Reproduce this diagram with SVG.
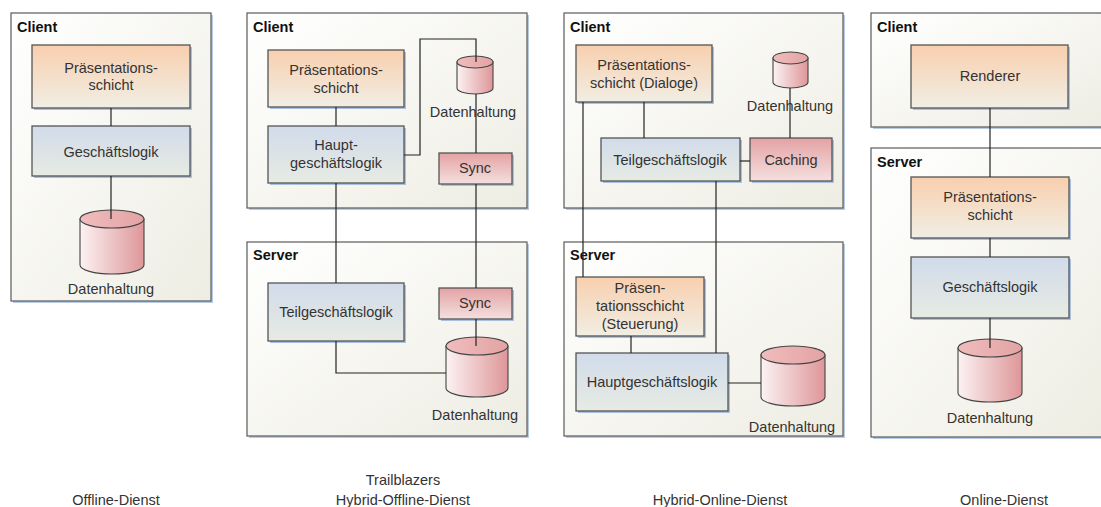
<svg xmlns="http://www.w3.org/2000/svg" width="1101" height="507" viewBox="0 0 1101 507">
  <defs>
    <linearGradient id="gContainer" x1="0" y1="0" x2="1" y2="1">
      <stop offset="0" stop-color="#ffffff"/>
      <stop offset="1" stop-color="#eeede3"/>
    </linearGradient>
    <linearGradient id="gOrange" x1="0" y1="0" x2="0" y2="1">
      <stop offset="0" stop-color="#f8cfae"/>
      <stop offset="1" stop-color="#f1eee4"/>
    </linearGradient>
    <linearGradient id="gBlue" x1="0" y1="0" x2="0" y2="1">
      <stop offset="0" stop-color="#d1dbea"/>
      <stop offset="1" stop-color="#e7ebe3"/>
    </linearGradient>
    <linearGradient id="gRed" x1="0" y1="0" x2="0" y2="1">
      <stop offset="0" stop-color="#e4a2a4"/>
      <stop offset="1" stop-color="#f4e0df"/>
    </linearGradient>
    <linearGradient id="gCylSide" x1="0" y1="0" x2="1" y2="0">
      <stop offset="0" stop-color="#fcf2f3"/>
      <stop offset="1" stop-color="#de9698"/>
    </linearGradient>
    <linearGradient id="gCylTop" x1="0" y1="0" x2="1" y2="0">
      <stop offset="0" stop-color="#f0bcbd"/>
      <stop offset="1" stop-color="#e3a3a4"/>
    </linearGradient>
  </defs>
  <style>
    .container { fill: url(#gContainer); stroke: #5a5a5a; stroke-width: 1.2; }
    .cshadow { fill: #b7cbe6; }
    .shadow { fill: #a9c0e0; }
    .orange { fill: url(#gOrange); stroke: #555; stroke-width: 1.3; }
    .blue { fill: url(#gBlue); stroke: #555; stroke-width: 1.3; }
    .red { fill: url(#gRed); stroke: #555; stroke-width: 1.3; }
    .cylside { fill: url(#gCylSide); stroke: #444; stroke-width: 1.1; }
    .cyltop { fill: url(#gCylTop); stroke: #444; stroke-width: 1.1; }
    .title { font-family: "Liberation Sans", Arial, sans-serif; font-size: 14.5px; font-weight: bold; fill: #111; }
    .lbl { font-family: "Liberation Sans", Arial, sans-serif; font-size: 14.5px; fill: #333; text-anchor: middle; }
    .cap { font-family: "Liberation Sans", Arial, sans-serif; font-size: 14.5px; fill: #333; text-anchor: middle; }
    .conn { fill: none; stroke: #222; stroke-width: 1.2; }
  </style>

  <!-- ============ Column 1: Offline-Dienst ============ -->
  <g id="offline-client">
    <rect class="cshadow" x="13" y="15" width="200" height="288"/>
    <rect class="container" x="11" y="13" width="200" height="288"/>
    <text class="title" x="17" y="32">Client</text>
  </g>
  <g id="offline-praesentation">
    <rect class="shadow" x="34" y="47" width="158" height="63"/>
    <rect class="orange" x="32" y="45" width="158" height="63"/>
    <text class="lbl" x="111" y="73">Präsentations-</text>
    <text class="lbl" x="111" y="90">schicht</text>
  </g>
  <g id="offline-logik">
    <rect class="shadow" x="34" y="128" width="158" height="50"/>
    <rect class="blue" x="32" y="126" width="158" height="50"/>
    <text class="lbl" x="111" y="157">Geschäftslogik</text>
  </g>
  <g id="offline-daten">
    <path class="cylside" d="M80,219 V265 A32,9 0 0 0 144,265 V219 Z"/>
    <ellipse class="cyltop" cx="112" cy="219" rx="32" ry="9"/>
    <text class="lbl" x="111" y="294">Datenhaltung</text>
  </g>

  <!-- ============ Column 2: Trailblazers Hybrid-Offline-Dienst ============ -->
  <g id="hoff-client">
    <rect class="cshadow" x="249" y="15" width="280" height="195"/>
    <rect class="container" x="247" y="13" width="280" height="195"/>
    <text class="title" x="253" y="32">Client</text>
  </g>
  <g id="hoff-praesentation">
    <rect class="shadow" x="270" y="52" width="136" height="57"/>
    <rect class="orange" x="268" y="50" width="136" height="57"/>
    <text class="lbl" x="336" y="75">Präsentations-</text>
    <text class="lbl" x="336" y="93">schicht</text>
  </g>
  <g id="hoff-hauptlogik">
    <rect class="shadow" x="270" y="128" width="136" height="57"/>
    <rect class="blue" x="268" y="126" width="136" height="57"/>
    <text class="lbl" x="336" y="150">Haupt-</text>
    <text class="lbl" x="336" y="168">geschäftslogik</text>
  </g>
  <g id="hoff-client-daten">
    <path class="cylside" d="M457,62 V88 A18,6 0 0 0 493,88 V62 Z"/>
    <ellipse class="cyltop" cx="475" cy="62" rx="18" ry="6"/>
    <text class="lbl" x="473" y="117">Datenhaltung</text>
  </g>
  <g id="hoff-client-sync">
    <rect class="shadow" x="441" y="155" width="73" height="31"/>
    <rect class="red" x="439" y="153" width="73" height="31"/>
    <text class="lbl" x="475" y="173">Sync</text>
  </g>
  <g id="hoff-server">
    <rect class="cshadow" x="249" y="244" width="280" height="194"/>
    <rect class="container" x="247" y="242" width="280" height="194"/>
    <text class="title" x="253" y="260">Server</text>
  </g>
  <g id="hoff-teillogik">
    <rect class="shadow" x="270" y="285" width="136" height="58"/>
    <rect class="blue" x="268" y="283" width="136" height="58"/>
    <text class="lbl" x="336" y="317">Teilgeschäftslogik</text>
  </g>
  <g id="hoff-server-sync">
    <rect class="shadow" x="441" y="290" width="73" height="31"/>
    <rect class="red" x="439" y="288" width="73" height="31"/>
    <text class="lbl" x="475" y="308">Sync</text>
  </g>
  <g id="hoff-server-daten">
    <path class="cylside" d="M446,346 V388 A31,9 0 0 0 508,388 V346 Z"/>
    <ellipse class="cyltop" cx="477" cy="346" rx="31" ry="9"/>
    <text class="lbl" x="475" y="420">Datenhaltung</text>
  </g>

  <!-- ============ Column 3: Hybrid-Online-Dienst ============ -->
  <g id="hon-client">
    <rect class="cshadow" x="566" y="15" width="279" height="195"/>
    <rect class="container" x="564" y="13" width="279" height="195"/>
    <text class="title" x="570" y="32">Client</text>
  </g>
  <g id="hon-dialoge">
    <rect class="shadow" x="578" y="47" width="136" height="57"/>
    <rect class="orange" x="576" y="45" width="136" height="57"/>
    <text class="lbl" x="644" y="70">Präsentations-</text>
    <text class="lbl" x="644" y="88">schicht (Dialoge)</text>
  </g>
  <g id="hon-client-daten">
    <path class="cylside" d="M773,58 V82 A17.5,6 0 0 0 808,82 V58 Z"/>
    <ellipse class="cyltop" cx="790.5" cy="58" rx="17.5" ry="6"/>
    <text class="lbl" x="790" y="111">Datenhaltung</text>
  </g>
  <g id="hon-teillogik">
    <rect class="shadow" x="603" y="140" width="139" height="43"/>
    <rect class="blue" x="601" y="138" width="139" height="43"/>
    <text class="lbl" x="670" y="165">Teilgeschäftslogik</text>
  </g>
  <g id="hon-caching">
    <rect class="shadow" x="752" y="140" width="82" height="43"/>
    <rect class="red" x="750" y="138" width="82" height="43"/>
    <text class="lbl" x="791" y="165">Caching</text>
  </g>
  <g id="hon-server">
    <rect class="cshadow" x="566" y="244" width="279" height="194"/>
    <rect class="container" x="564" y="242" width="279" height="194"/>
    <text class="title" x="570" y="260">Server</text>
  </g>
  <g id="hon-steuerung">
    <rect class="shadow" x="578" y="279" width="128" height="59"/>
    <rect class="orange" x="576" y="277" width="128" height="59"/>
    <text class="lbl" x="640" y="293">Präsen-</text>
    <text class="lbl" x="640" y="311">tationsschicht</text>
    <text class="lbl" x="640" y="329">(Steuerung)</text>
  </g>
  <g id="hon-hauptlogik">
    <rect class="shadow" x="578" y="355" width="152" height="58"/>
    <rect class="blue" x="576" y="353" width="152" height="58"/>
    <text class="lbl" x="652" y="387">Hauptgeschäftslogik</text>
  </g>
  <g id="hon-server-daten">
    <path class="cylside" d="M761,355 V397 A32,9 0 0 0 825,397 V355 Z"/>
    <ellipse class="cyltop" cx="793" cy="355" rx="32" ry="9"/>
    <text class="lbl" x="792" y="432">Datenhaltung</text>
  </g>

  <!-- ============ Column 4: Online-Dienst ============ -->
  <g id="on-client">
    <rect class="cshadow" x="873" y="15" width="232" height="114"/>
    <rect class="container" x="871" y="13" width="232" height="114"/>
    <text class="title" x="877" y="32">Client</text>
  </g>
  <g id="on-renderer">
    <rect class="shadow" x="913" y="47" width="157" height="63"/>
    <rect class="orange" x="911" y="45" width="157" height="63"/>
    <text class="lbl" x="990" y="81">Renderer</text>
  </g>
  <g id="on-server">
    <rect class="cshadow" x="873" y="150" width="232" height="289"/>
    <rect class="container" x="871" y="148" width="232" height="289"/>
    <text class="title" x="877" y="167">Server</text>
  </g>
  <g id="on-praesentation">
    <rect class="shadow" x="913" y="179" width="158" height="61"/>
    <rect class="orange" x="911" y="177" width="158" height="61"/>
    <text class="lbl" x="990" y="202">Präsentations-</text>
    <text class="lbl" x="990" y="220">schicht</text>
  </g>
  <g id="on-logik">
    <rect class="shadow" x="913" y="259" width="158" height="61"/>
    <rect class="blue" x="911" y="257" width="158" height="61"/>
    <text class="lbl" x="990" y="292">Geschäftslogik</text>
  </g>
  <g id="on-daten">
    <path class="cylside" d="M958,348 V393 A32,9 0 0 0 1022,393 V348 Z"/>
    <ellipse class="cyltop" cx="990" cy="348" rx="32" ry="9"/>
    <text class="lbl" x="990" y="423">Datenhaltung</text>
  </g>

  <!-- ============ Connectors ============ -->
  <g id="connectors">
    <!-- Offline -->
    <path class="conn" d="M111,108 V126"/>
    <path class="conn" d="M111,176 V219"/>
    <!-- Hybrid offline -->
    <path class="conn" d="M336,107 V126"/>
    <path class="conn" d="M404,155 H420 V39 H476 V62"/>
    <path class="conn" d="M476,94 V153"/>
    <path class="conn" d="M476,184 V288"/>
    <path class="conn" d="M336,183 V283"/>
    <path class="conn" d="M476,319 V346"/>
    <path class="conn" d="M336,341 V373 H446"/>
    <!-- Hybrid online -->
    <path class="conn" d="M644,102 V138"/>
    <path class="conn" d="M740,161 H750"/>
    <path class="conn" d="M790,88 V138"/>
    <path class="conn" d="M583,102 V277"/>
    <path class="conn" d="M716,181 V353"/>
    <path class="conn" d="M631,336 V353"/>
    <path class="conn" d="M728,383 H761"/>
    <!-- Online -->
    <path class="conn" d="M990,108 V177"/>
    <path class="conn" d="M990,238 V257"/>
    <path class="conn" d="M990,318 V348"/>
  </g>

  <!-- ============ Captions ============ -->
  <g id="captions">
    <text class="cap" x="116" y="505">Offline-Dienst</text>
    <text class="cap" x="403" y="485">Trailblazers</text>
    <text class="cap" x="403" y="505">Hybrid-Offline-Dienst</text>
    <text class="cap" x="720" y="505">Hybrid-Online-Dienst</text>
    <text class="cap" x="1004" y="505">Online-Dienst</text>
  </g>
</svg>
